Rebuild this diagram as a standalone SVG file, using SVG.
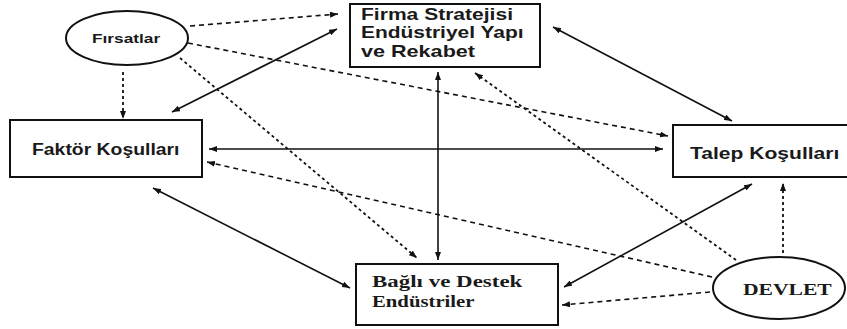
<svg xmlns="http://www.w3.org/2000/svg" width="847" height="329" viewBox="0 0 847 329">
<style>
.box{fill:#fff;stroke:#111;stroke-width:2}
.ell{fill:#fff;stroke:#111;stroke-width:2}
.sans{font-family:"Liberation Sans",Arial,sans-serif;font-weight:bold;fill:#1a1a1a}
.serif{font-family:"Liberation Serif","Times New Roman",serif;font-weight:bold;fill:#1a1a1a}
.c{fill:none;stroke:#111;stroke-width:1.6}
.solid{marker-start:url(#ah);marker-end:url(#ah)}
.dash{stroke-dasharray:5 4;marker-end:url(#ah)}
.dot{stroke-dasharray:3 3;stroke-width:1.8;marker-end:url(#ah)}
</style>
<defs>
<marker id="ah" viewBox="0 0 8 6" refX="8" refY="3" markerWidth="8" markerHeight="6" markerUnits="userSpaceOnUse" orient="auto-start-reverse">
<path d="M0,0 L8,3 L0,6 z" fill="#111"/>
</marker>
</defs>
<rect width="847" height="329" fill="#fff"/>
<g id="connectors">
<path class="c dash" d="M190,26 L338,14"/>
<path class="c dash" d="M188,43 L668,136"/>
<path class="c dot" d="M180,58 L417,258"/>
<path class="c dot" d="M123,72 L123,119"/>
<path class="c solid" d="M172,112 L337,29"/>
<path class="c solid" d="M209,149 L663,149"/>
<path class="c solid" d="M553,27 L732,121"/>
<path class="c solid" d="M438,72 L438,260"/>
<path class="c dash" d="M712,277 L207,162"/>
<path class="c solid" d="M153,188 L350,288"/>
<path class="c dot" d="M736,260 L475,73"/>
<path class="c solid" d="M564,287 L752,184"/>
<path class="c dot" d="M783,253 L783,183"/>
<path class="c dash" d="M710,292 L562,305"/>
</g>
<g id="firsatlar">
<ellipse class="ell" cx="127" cy="38" rx="61" ry="27"/>
<text class="sans" font-size="13" transform="translate(92,43) scale(1.33,1)">Fırsatlar</text>
</g>
<g id="firma">
<rect class="box" x="350" y="4" width="190" height="63"/>
<text class="sans" font-size="16" transform="translate(361,20) scale(1.315,1)">Firma Stratejisi</text>
<text class="sans" font-size="16" transform="translate(361,38) scale(1.31,1)">Endüstriyel Yapı</text>
<text class="sans" font-size="16" transform="translate(361,57) scale(1.35,1)">ve Rekabet</text>
</g>
<g id="faktor">
<rect class="box" x="10" y="120" width="192" height="57"/>
<text class="sans" font-size="17" transform="translate(32,155) scale(1.14,1)">Faktör Koşulları</text>
</g>
<g id="talep">
<rect class="box" x="673" y="125" width="185" height="52"/>
<text class="sans" font-size="17" transform="translate(690,159) scale(1.24,1)">Talep Koşulları</text>
</g>
<g id="bagli">
<rect class="box" x="356" y="264" width="202" height="61"/>
<text class="serif" font-size="17" transform="translate(372,287) scale(1.35,1)">Bağlı ve Destek</text>
<text class="serif" font-size="17" transform="translate(372,307) scale(1.22,1)">Endüstriler</text>
</g>
<g id="devlet">
<ellipse class="ell" cx="779" cy="288" rx="66" ry="31"/>
<text class="serif" font-size="17" transform="translate(743,295) scale(1.27,1)">DEVLET</text>
</g>
</svg>
